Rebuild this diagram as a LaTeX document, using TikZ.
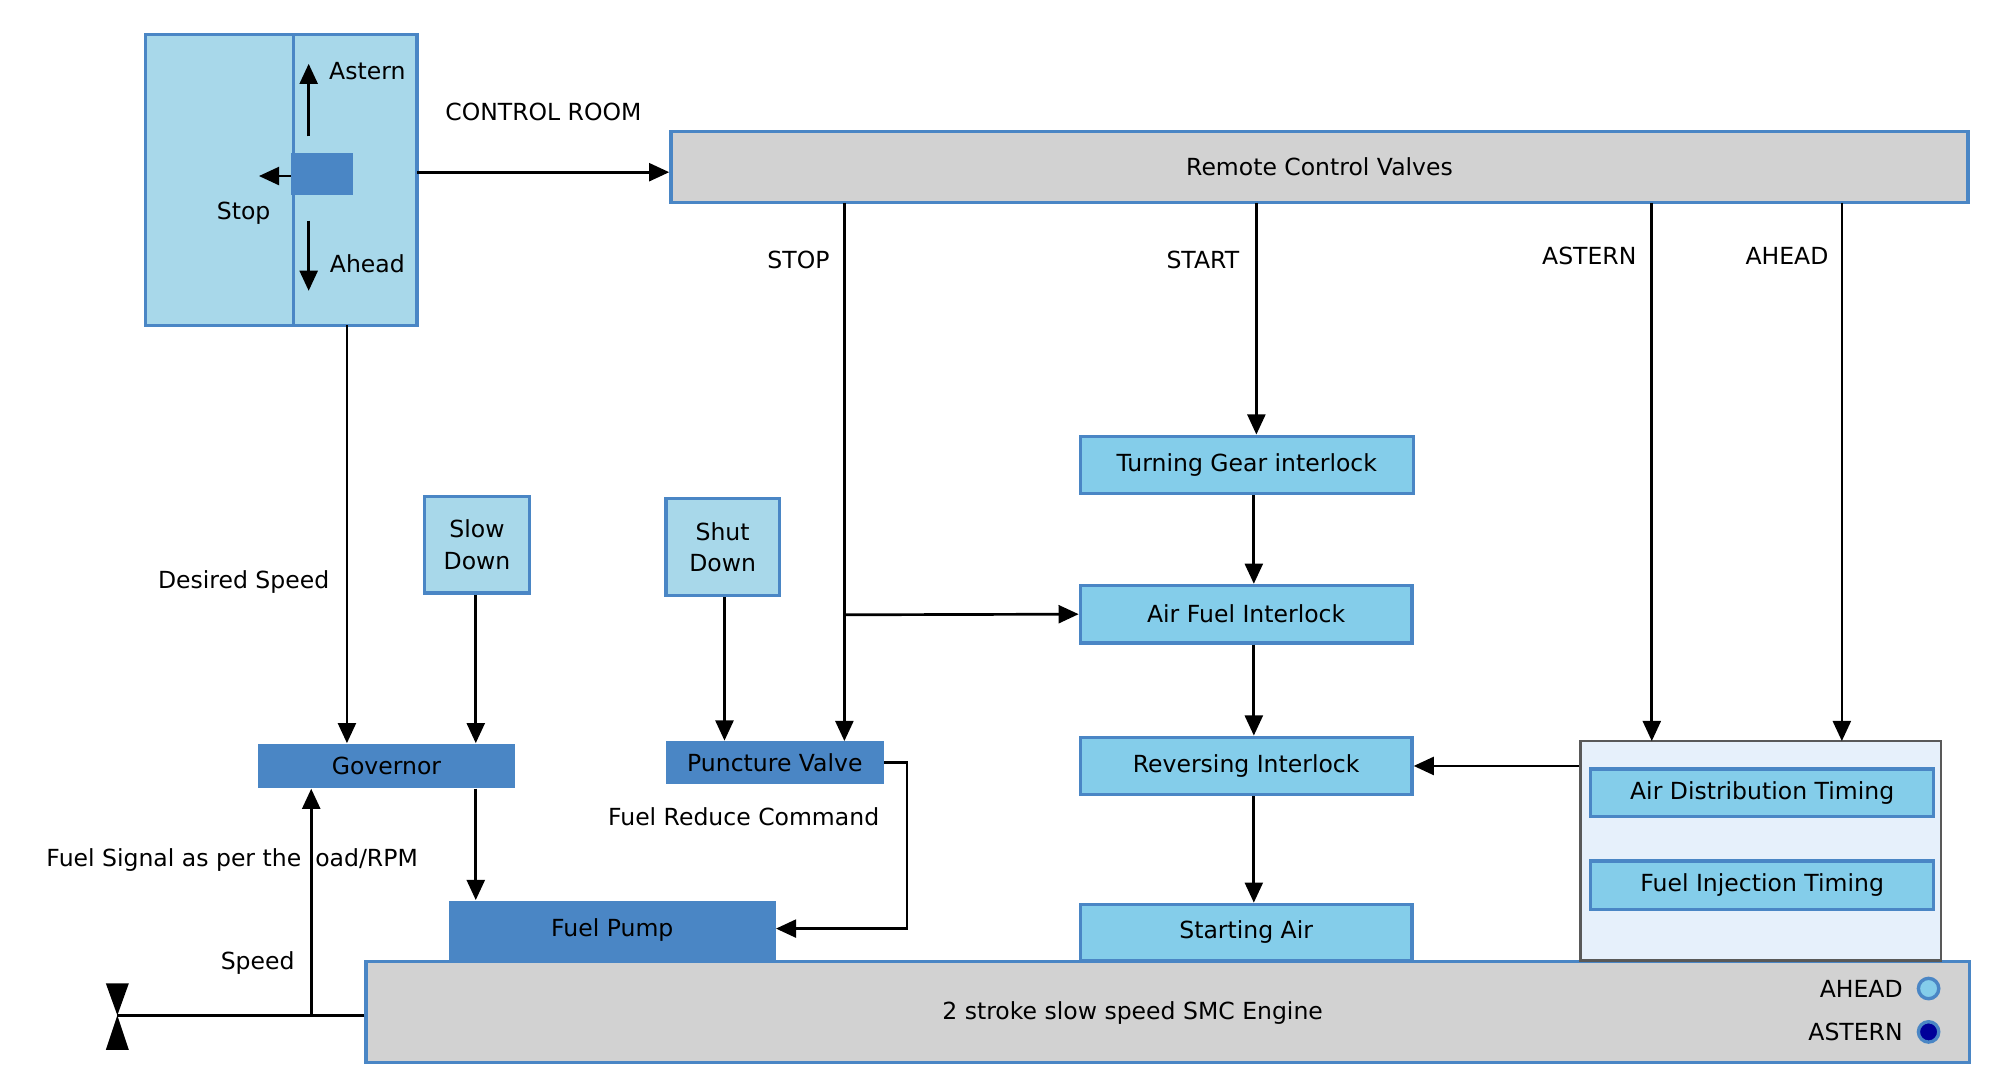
\documentclass[tikz,border=0pt]{standalone}
\usepackage{fontspec}
\setmainfont{DejaVu Sans}
\usetikzlibrary{arrows.meta,positioning}
\definecolor{lever}{HTML}{A8D8EA}
\definecolor{lite}{HTML}{84CDEA}
\definecolor{dark}{HTML}{4A86C5}
\definecolor{panel}{HTML}{E6F0FB}
\tikzset{
  box/.style={draw=dark, line width=1.5pt, fill=lite, inner sep=0pt},
  dbox/.style={fill=dark, inner sep=0pt},
  gbox/.style={draw=dark, line width=1.5pt, fill=gray!35, inner sep=0pt},
  lbl/.style={inner sep=0pt},
  arr/.style={-{Triangle[length=9pt,width=8pt]}, line width=1.2pt},
}
\begin{document}
\begin{tikzpicture}[x=0.02cm, y=-0.02cm, font=\fontsize{10.5}{12.5}\selectfont]
\useasboundingbox (0,0) rectangle (1568,853);
% lever
\draw[dark, fill=lever, line width=1.5pt] (114,27) rectangle (327,255);
\draw[dark, line width=1.5pt] (230,27) -- (230,255);
\fill[dark] (228,120) rectangle (277,153);
\coordinate (lvr) at (327,135);
\coordinate (lvb) at (272,255);
\draw[arr] (242,107) -- (242,50);
\draw[arr] (228,138) -- (203,138);
\draw[arr] (242,173) -- (242,228);
\node[lbl] at (288,56) {Astern};
\node[lbl] at (191,167) {Stop};
\node[lbl] at (288,207) {Ahead};
% boxes
\node[gbox, minimum width=1017*0.02cm, minimum height=56*0.02cm] (rcv) at (1034.5,131) {Remote Control Valves};
\node[gbox, minimum width=1257*0.02cm, minimum height=79*0.02cm] (eng) at (915.5,793.5) {};
\node at (888,794) {2 stroke slow speed SMC Engine};
\node[box, minimum width=261*0.02cm, minimum height=45*0.02cm] (tgi) at (977.5,364.5) {Turning Gear interlock};
\node[box, minimum width=260*0.02cm, minimum height=45*0.02cm] (afi) at (977,481.5) {Air Fuel Interlock};
\node[box, minimum width=260*0.02cm, minimum height=45*0.02cm] (rvi) at (977,600.5) {Reversing Interlock};
\node[box, minimum width=260*0.02cm, minimum height=44*0.02cm] (sta) at (977,731) {Starting Air};
\node[draw=gray!70!black, line width=1pt, fill=panel, minimum width=283*0.02cm, minimum height=172*0.02cm, inner sep=0pt] (tim) at (1380.5,667) {};
\node[box, minimum width=269*0.02cm, minimum height=37*0.02cm] (adt) at (1381.5,621.5) {Air Distribution Timing};
\node[box, minimum width=269*0.02cm, minimum height=38*0.02cm] (fit) at (1381.5,694) {Fuel Injection Timing};
\node[dbox, minimum width=202*0.02cm, minimum height=35*0.02cm] (gov) at (303,600.5) {Governor};
\node[dbox, minimum width=171*0.02cm, minimum height=34*0.02cm] (pv) at (607.5,598) {Puncture Valve};
\node[dbox, minimum width=256*0.02cm, minimum height=47*0.02cm] (fp) at (480,729.5) {Fuel Pump};
\node[box, fill=lever, minimum width=82*0.02cm, minimum height=76*0.02cm, align=center, font=\fontsize{10.5}{14}\selectfont] (sld) at (374,427) {Slow\\Down};
\node[box, fill=lever, minimum width=89*0.02cm, minimum height=76*0.02cm, align=center, font=\fontsize{10.5}{14}\selectfont] (shd) at (566.5,429) {Shut\\Down};
% engine lamps
\node[lbl, anchor=east] at (1492,775) {AHEAD};
\node[lbl, anchor=east] at (1492,809) {ASTERN};
\draw[dark, fill=lite, line width=1.5pt] (1512,775) circle (8);
\draw[dark, fill=blue!60!black, line width=1.5pt] (1512,809) circle (8);
% connectors
\draw[arr] (lvr) -- (rcv.west |- lvr);
\node[lbl] at (426,88) {CONTROL ROOM};
\draw[arr] (662,159) -- (662,581);
\draw[arr] (662,482) -- (afi.west);
\draw[arr] (985,159) -- (tgi.north -| 985,0);
\draw[arr] (1295,159) -- (1295,581);
\draw[arr] (1444,159) -- (1444,581);
\node[lbl] at (626,204) {STOP};
\node[lbl] at (943,204) {START};
\node[lbl] at (1246,201) {ASTERN};
\node[lbl] at (1401,201) {AHEAD};
\draw[arr] (tgi.south -| 983,0) -- (afi.north -| 983,0);
\draw[arr] (afi.south -| 983,0) -- (rvi.north -| 983,0);
\draw[arr] (rvi.south -| 983,0) -- (sta.north -| 983,0);
\draw[arr] (tim.west |- rvi) -- (rvi.east);
\draw[arr] (lvb) -- (gov.north -| lvb);
\node[lbl] at (191,456) {Desired Speed};
\draw[arr] (sld.south -| 373,0) -- (gov.north -| 373,0);
\draw[arr] (shd.south -| 568,0) -- (pv.north -| 568,0);
\draw[arr] (gov.south -| 373,0) -- (fp.north -| 373,0);
\draw[arr] (pv.east) -- (711,598) -- (711,728) -- (fp.east |- 0,728);
\node[lbl] at (583,640) {Fuel Reduce Command};
\coordinate (spd) at (92,796);
\draw[line width=1.2pt] (eng.west |- spd) -- (spd);
\draw[arr] (244,796) -- (gov.south -| 244,0);
\node[lbl] at (182,674) {Fuel Signal as per the load/RPM};
\node[lbl] at (202,755) {Speed};
\fill (83,771) -- (101,771) -- (92,796) -- cycle;
\fill (83,823) -- (101,823) -- (92,796) -- cycle;
\end{tikzpicture}
\end{document}
